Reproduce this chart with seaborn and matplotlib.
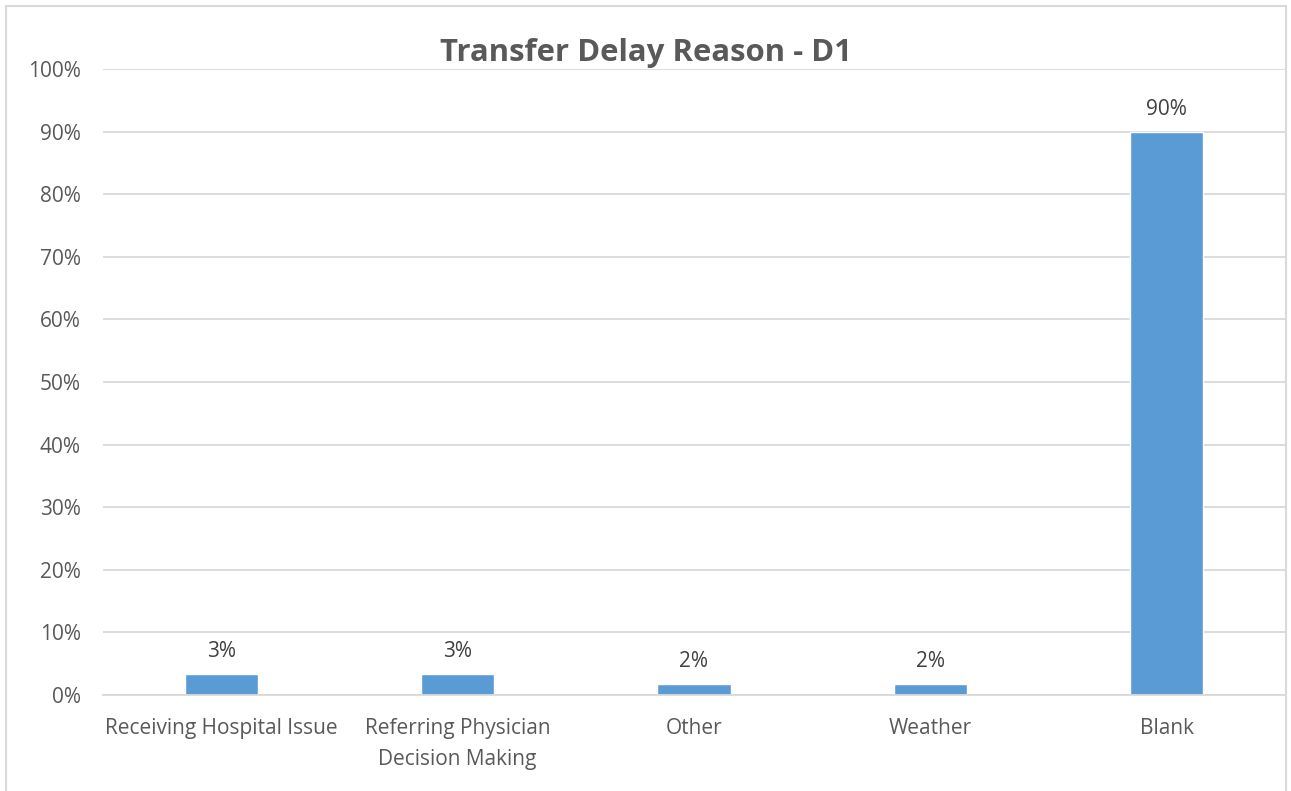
import matplotlib
matplotlib.use("Agg")
import matplotlib.pyplot as plt
import seaborn as sns
import pandas as pd
from matplotlib.patches import Rectangle
from matplotlib.ticker import FuncFormatter, MultipleLocator

categories = ["Receiving Hospital Issue", "Referring Physician\nDecision Making", "Other", "Weather", "Blank"]
values = [3.3, 3.3, 1.7, 1.7, 89.9]
labels = ["3%", "3%", "2%", "2%", "90%"]
title = "Transfer Delay Reason - D1"

sns.set_theme(style="white")
plt.rcParams['font.family'] = ['Open Sans', 'DejaVu Sans']

fig = plt.figure(figsize=(12.91, 7.91), dpi=100)
ax = fig.add_axes([103/1291, 1-695/791, (1285-103)/1291, (695-69)/791])

df = pd.DataFrame({"cat": categories, "val": values})
sns.barplot(data=df, x="cat", y="val", color="#5B9BD5", saturation=1, width=0.31, ax=ax)

ax.set_xlim(-0.5, 4.5)
ax.set_ylim(0, 100)
ax.yaxis.set_major_locator(MultipleLocator(10))
ax.yaxis.set_major_formatter(FuncFormatter(lambda v, p: f"{int(round(v))}%"))
ax.grid(axis="y", color="#D9D9D9", linewidth=1.3)
ax.set_axisbelow(True)
for s in ["top", "right", "left"]:
    ax.spines[s].set_visible(False)
ax.spines["bottom"].set_color("#D9D9D9")
ax.spines["bottom"].set_linewidth(1.3)
ax.tick_params(axis="both", length=0, labelsize=15, colors="#595959")
ax.tick_params(axis="y", pad=16)
ax.tick_params(axis="x", pad=16.5)
for t in ax.get_xticklabels():
    t.set_linespacing(1.6)
ax.set_xlabel("")
ax.set_ylabel("")

for i, (v, l) in enumerate(zip(values, labels)):
    ax.annotate(l, (i, v), xytext=(0, 9), textcoords="offset points",
                ha="center", va="bottom", fontsize=15, color="#404040")

fig.text(646/1291, 1-53/791, title, ha="center", va="center",
         fontsize=22.4, fontweight="bold", color="#595959")

fig.patches.append(Rectangle((6/1291, -0.1), (1286-6)/1291, 1.1-6/791,
                             transform=fig.transFigure, fill=False,
                             edgecolor="#D9D9D9", linewidth=1.5))

fig.savefig("out.png", dpi=100)
